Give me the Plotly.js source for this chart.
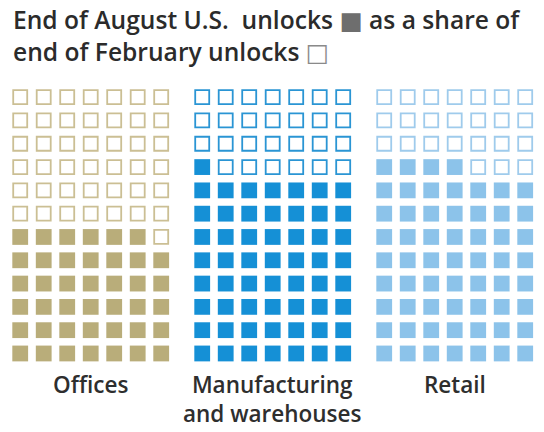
<!DOCTYPE html>
<html>
<head>
<meta charset="utf-8">
<script src="https://cdn.plot.ly/plotly-3.0.1.min.js"></script>
<style>html,body{margin:0;padding:0;background:#fff;}#chart{width:544px;height:432px;}</style>
</head>
<body>
<div id="chart"></div>
<script>
// Data: squares per grid and filled (end of August) squares
const categories = ['Offices', 'Manufacturing<br>and warehouses', 'Retail'];
const filledSquares = [41, 57, 60];
const totalSquares = [84, 84, 84];
const fillColors = ['#b9ad7a', '#1590d6', '#8cc3ea'];
const outlineColors = ['#cbbf94', '#2a95d4', '#9fcbec'];

const COLS = 7;
const GROUP_STEP = 7.745; // column units between grid origins

const traces = [];
categories.forEach(function (cat, g) {
  const fx = [], fy = [], ex = [], ey = [];
  for (let i = 0; i < totalSquares[g]; i++) {
    const row = Math.floor(i / COLS);   // from bottom
    const col = i % COLS;               // left to right
    const x = g * GROUP_STEP + col;
    if (i < filledSquares[g]) { fx.push(x); fy.push(row); }
    else { ex.push(x); ey.push(row); }
  }
  traces.push({
    type: 'scatter', mode: 'markers', x: fx, y: fy, name: cat + ' Aug',
    hoverinfo: 'skip',
    marker: {symbol: 'square', size: 15.8, color: fillColors[g], line: {width: 0}}
  });
  traces.push({
    type: 'scatter', mode: 'markers', x: ex, y: ey, name: cat + ' Feb',
    hoverinfo: 'skip',
    marker: {symbol: 'square-open', size: 14, color: outlineColors[g], line: {width: 1.8, color: outlineColors[g]}}
  });
});

const annotations = categories.map(function (cat, g) {
  return {
    text: cat, x: g * GROUP_STEP + (COLS - 1) / 2, y: -0.58, xref: 'x', yref: 'y',
    xanchor: 'center', yanchor: 'top', showarrow: false, align: 'center',
    font: {family: 'Open Sans, sans-serif', size: 22.5, color: '#2e2e2e', weight: 600}
  };
});
annotations.push({
  text: 'End of August U.S.  unlocks <span style="color:#6e6e6e;font-family:DejaVu Sans">■</span> as a share of<br>end of February unlocks <span style="color:#8a8a8a;font-family:DejaVu Sans">□</span>',
  xref: 'paper', yref: 'paper', x: 0.02, y: 0.997, xanchor: 'left', yanchor: 'top',
  showarrow: false, align: 'left',
  font: {family: 'Open Sans, sans-serif', size: 24.6, color: '#2b2b2b', weight: 600}
});

const layout = {
  width: 544, height: 432,
  margin: {l: 0, r: 0, t: 0, b: 0},
  paper_bgcolor: '#ffffff', plot_bgcolor: '#ffffff',
  showlegend: false,
  xaxis: {range: [-0.86, 22.29], visible: false, fixedrange: true},
  yaxis: {range: [-3.37, 15.17], visible: false, fixedrange: true},
  annotations: annotations
};

Plotly.newPlot('chart', traces, layout, {displayModeBar: false, staticPlot: true});
</script>
</body>
</html>
